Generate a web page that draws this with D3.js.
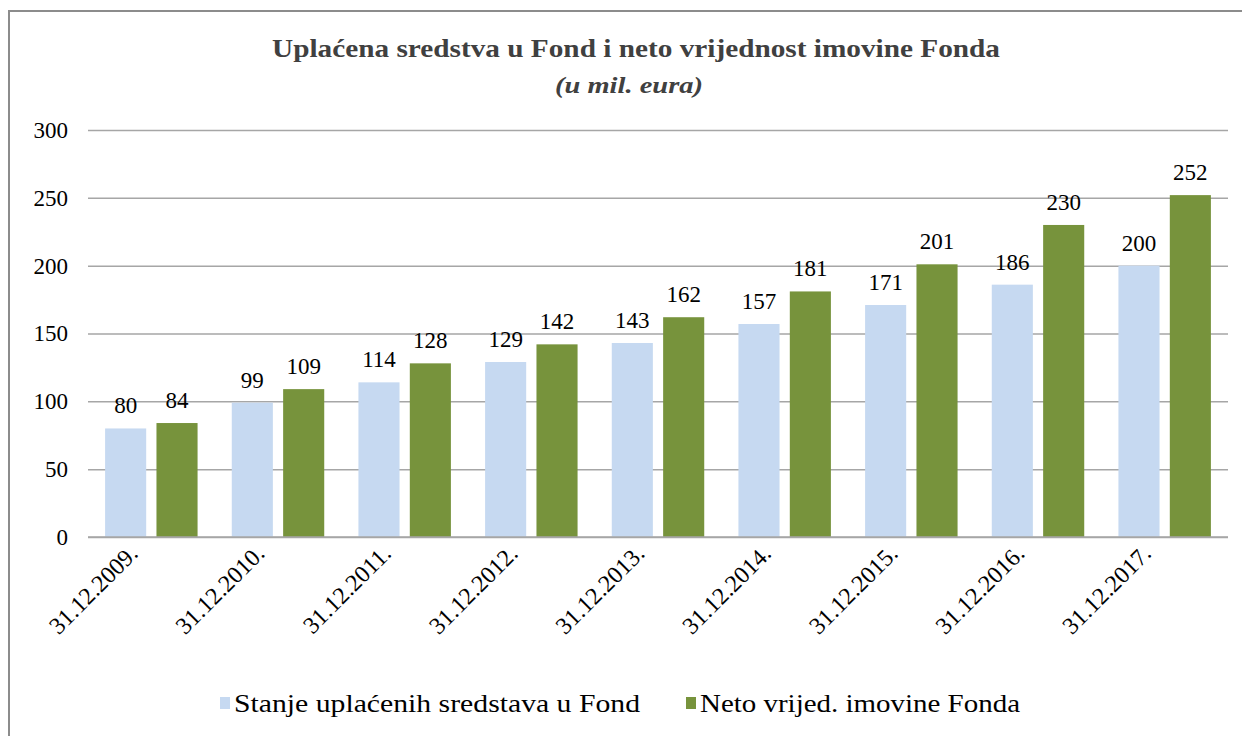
<!DOCTYPE html>
<html>
<head>
<meta charset="utf-8">
<script src="https://cdn.jsdelivr.net/npm/d3@7"></script>
</head>
<body style="margin:0;background:#fff">
<div id="chart"></div>
<script>
// --- data ---
const categories = ["31.12.2009.", "31.12.2010.", "31.12.2011.", "31.12.2012.", "31.12.2013.",
                    "31.12.2014.", "31.12.2015.", "31.12.2016.", "31.12.2017."];
const uplaceno = [80, 99, 114, 129, 143, 157, 171, 186, 200];
const netoImovina = [84, 109, 128, 142, 162, 181, 201, 230, 252];
const seriesNames = ["Stanje uplaćenih sredstava u Fond", "Neto vrijed. imovine Fonda"];
const yTicks = [0, 50, 100, 150, 200, 250, 300];

(function () {
    const W = 1242, H = 736;
    const FONT = "'Liberation Serif', 'Times New Roman', Times, serif";
    const plot = { left: 88, right: 1228, top: 130, bottom: 537 };
    const colors = ["#c6d9f1", "#77933c"];

    const svg = d3.select("#chart").append("svg")
        .attr("width", W).attr("height", H)
        .style("display", "block")
        .style("font-family", FONT);

    // outer frame (only top and left edges are visible in the crop)
    svg.append("path")
        .attr("d", `M9,${H} V11 H${W}`)
        .attr("fill", "none")
        .attr("stroke", "#8c8c8c")
        .attr("stroke-width", 2);

    // title (the original is a condensed serif, so squeeze it)
    svg.append("text")
        .attr("x", 636).attr("y", 57)
        .attr("text-anchor", "middle")
        .style("font-family", FONT)
        .attr("font-size", 25).attr("font-weight", "bold")
        .attr("fill", "#404040")
        .attr("textLength", 728).attr("lengthAdjust", "spacingAndGlyphs")
        .text("Uplaćena sredstva  u Fond i neto vrijednost imovine Fonda");
    svg.append("text")
        .attr("x", 629).attr("y", 93)
        .attr("text-anchor", "middle")
        .style("font-family", FONT)
        .attr("font-size", 24).attr("font-weight", "bold").attr("font-style", "italic")
        .attr("fill", "#404040")
        .attr("textLength", 148).attr("lengthAdjust", "spacingAndGlyphs")
        .text("(u mil. eura)");

    const y = d3.scaleLinear().domain([0, 300]).range([plot.bottom, plot.top]);
    const x0 = d3.scaleBand().domain(categories).range([plot.left, plot.right]).paddingInner(0.27).paddingOuter(0.135);
    const x1 = d3.scaleBand().domain([0, 1]).range([0, x0.bandwidth()]).paddingInner(0.2);

    // gridlines + y axis labels
    const yAxis = svg.append("g")
        .attr("transform", `translate(${plot.left},0)`)
        .call(d3.axisLeft(y).tickValues(yTicks).tickSize(-(plot.right - plot.left)).tickPadding(20));
    yAxis.select(".domain").remove();
    yAxis.selectAll(".tick line").attr("stroke", "#a6a6a6").attr("stroke-width", 1.5);
    yAxis.selectAll(".tick text")
        .style("font-family", FONT)
        .attr("font-size", 23).attr("fill", "#000");

    // bars
    const groups = svg.append("g").selectAll("g")
        .data(categories)
        .join("g")
        .attr("transform", d => `translate(${x0(d)},0)`);

    const rows = (d, i) => [uplaceno[i], netoImovina[i]].map((v, k) => ({ k, v }));

    groups.selectAll("rect")
        .data(rows)
        .join("rect")
        .attr("x", d => x1(d.k))
        .attr("y", d => y(d.v))
        .attr("width", x1.bandwidth())
        .attr("height", d => y(0) - y(d.v))
        .attr("fill", d => colors[d.k]);

    groups.selectAll("text.val")
        .data(rows)
        .join("text")
        .attr("class", "val")
        .attr("x", d => x1(d.k) + x1.bandwidth() / 2)
        .attr("y", d => y(d.v) - 15)
        .attr("text-anchor", "middle")
        .style("font-family", FONT)
        .attr("font-size", 23)
        .attr("fill", "#000")
        .text(d => d.v);

    // baseline
    svg.append("line")
        .attr("x1", plot.left).attr("x2", plot.right)
        .attr("y1", y(0)).attr("y2", y(0))
        .attr("stroke", "#a6a6a6").attr("stroke-width", 1.5);

    // rotated category labels
    svg.append("g").selectAll("text")
        .data(categories)
        .join("text")
        .attr("transform", d => `translate(${x0(d) + x0.bandwidth() / 2 - 18},${plot.bottom + 12}) rotate(-45)`)
        .attr("text-anchor", "end")
        .attr("dy", "0.35em")
        .style("font-family", FONT)
        .attr("font-size", 24)
        .attr("fill", "#000")
        .text(d => d);

    // legend
    const legendX = [220, 686];
    const legendLen = [406, 320];
    const legend = svg.append("g").selectAll("g")
        .data(seriesNames)
        .join("g")
        .attr("transform", (d, i) => `translate(${legendX[i]},703)`);
    legend.append("rect")
        .attr("x", 0).attr("y", -6).attr("width", 10).attr("height", 12)
        .attr("fill", (d, i) => colors[i]);
    legend.append("text")
        .attr("x", 14).attr("dy", "0.35em")
        .style("font-family", FONT)
        .attr("font-size", 26).attr("fill", "#000")
        .attr("textLength", (d, i) => legendLen[i]).attr("lengthAdjust", "spacingAndGlyphs")
        .text(d => d);
})();
</script>
</body>
</html>
